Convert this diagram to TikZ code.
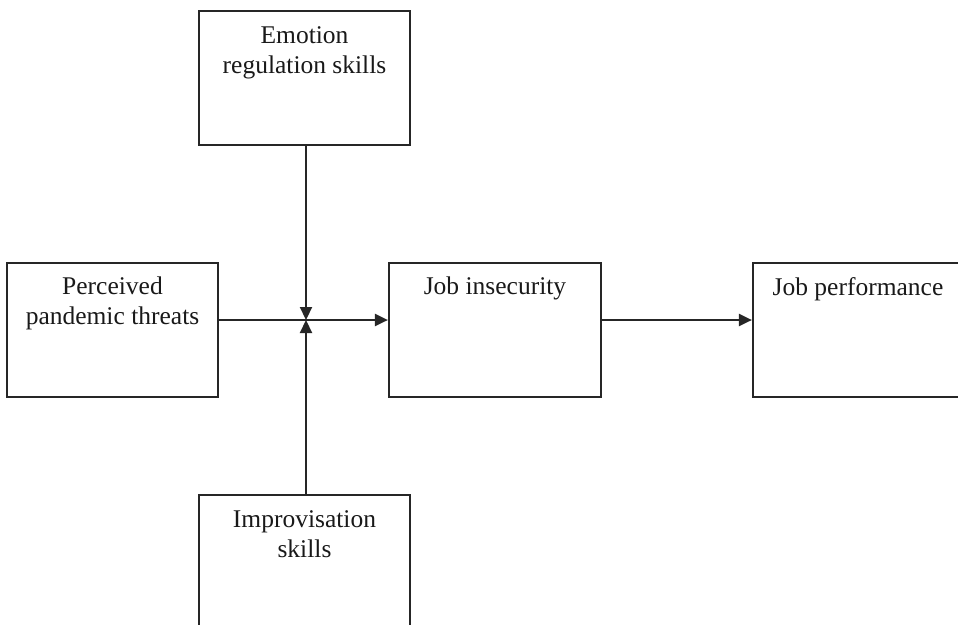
\documentclass[tikz,border=0pt]{standalone}
\usepackage{fontspec}
\setmainfont{Liberation Serif}
\usetikzlibrary{arrows.meta,calc}
\begin{document}
\begin{tikzpicture}[x=1pt,y=-1pt,
  box/.style={draw=black!85, line width=2.2pt, rectangle, inner sep=0pt,
              minimum width=211pt, minimum height=134pt},
  lbl/.style={anchor=base, inner sep=0pt, text=black!90,
              font=\fontsize{25.5}{30}\selectfont},
  conn/.style={draw=black!85, line width=2.2pt},
  arr/.style={conn, -{Triangle[length=13pt,width=12pt]}}]
\path[use as bounding box] (0,0) rectangle (958,624);
\clip (0,0) rectangle (958,624);
% boxes
\node[box] (emo)   at (304.5,78)  {};
\node[box] (perc)  at (112.5,330) {};
\node[box, minimum width=212pt] (jins) at (495,330) {};
\node[box] (jperf) at (858.5,330) {};
\node[box] (imp)   at (304.5,562) {};
% labels
\node[lbl] (emo1)  at (304.5,43)  {Emotion};
\node[lbl] (emo2)  at (304.5,73)  {regulation skills};
\node[lbl] (perc1) at (112.5,294) {Perceived};
\node[lbl] (perc2) at (112.5,324) {pandemic threats};
\node[lbl] (jins1) at (495,294)   {Job insecurity};
\node[lbl] (jperf1) at (858,295)  {Job performance};
\node[lbl] (imp1)  at (304.5,527) {Improvisation};
\node[lbl] (imp2)  at (304.5,557) {skills};
% junction
\coordinate (j) at (306,320);
% connectors
\draw[arr] (j -| perc.east) -- (j -| jins.west);
\draw[arr] (emo.south -| j) -- (j);
\draw[arr] (imp.north -| j) -- (j);
\draw[arr] (j -| jins.east) -- (j -| jperf.west);
\end{tikzpicture}
\end{document}
